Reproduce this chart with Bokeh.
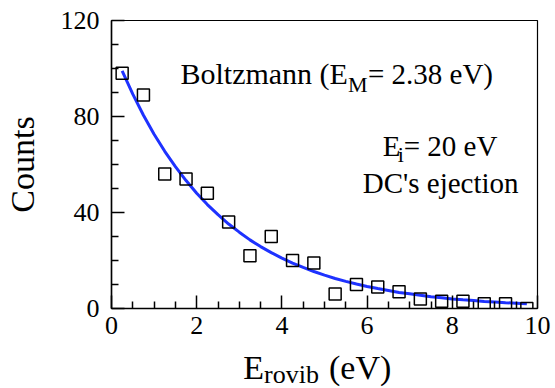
from bokeh.plotting import figure
from bokeh.models import Range1d, FixedTicker, Label
from bokeh.layouts import column
from bokeh.embed import file_html
from bokeh.resources import INLINE

# ---- data ----
e_rovib = [0.25, 0.75, 1.25, 1.75, 2.25, 2.75, 3.25, 3.75, 4.25, 4.75,
           5.25, 5.75, 6.25, 6.75, 7.25, 7.75, 8.25, 8.75, 9.25, 9.75]
counts = [98, 89, 56, 54, 48, 36, 22, 30, 20, 19,
          6, 10, 9, 7, 4, 3, 3, 2, 2, 0]

fit_x = [0.25, 0.50, 0.75, 1.00, 1.25, 1.50, 1.75, 2.00, 2.25, 2.50,
         2.75, 3.00, 3.25, 3.50, 3.75, 4.00, 4.25, 4.50, 4.75, 5.00,
         5.25, 5.50, 5.75, 6.00, 6.25, 6.50, 6.75, 7.00, 7.25, 7.50,
         7.75, 8.00, 8.25, 8.50, 8.75, 9.00, 9.25, 9.50, 9.75]
fit_y = [99.0, 89.3, 80.5, 72.6, 65.5, 59.1, 53.3, 48.0, 43.3, 39.1,
         35.2, 31.8, 28.6, 25.8, 23.3, 21.0, 18.9, 17.1, 15.4, 13.9,
         12.5, 11.3, 10.2, 9.2, 8.3, 7.5, 6.7, 6.1, 5.5, 4.9,
         4.5, 4.0, 3.6, 3.3, 2.9, 2.7, 2.4, 2.2, 2.0]

x_major = [0, 2, 4, 6, 8, 10]
x_minor = [0.5, 1, 1.5, 2.5, 3, 3.5, 4.5, 5, 5.5, 6.5, 7, 7.5, 8.5, 9, 9.5]
y_major = [0, 40, 80, 120]
y_minor = [10, 20, 30, 50, 60, 70, 90, 100, 110]

FONT = "Liberation Serif"
W = 555
LEFT, RIGHT = 110, 18

p = figure(width=W, height=350, output_backend="svg", toolbar_location=None,
           x_range=Range1d(0, 10), y_range=Range1d(0, 120),
           min_border_left=LEFT, min_border_right=RIGHT,
           min_border_top=20, min_border_bottom=42)
p.grid.visible = False
p.outline_line_color = "black"
p.outline_line_width = 1.2
p.background_fill_color = "white"
p.border_fill_color = "white"

for ax, maj, mnr in ((p.xaxis[0], x_major, x_minor), (p.yaxis[0], y_major, y_minor)):
    ax.ticker = FixedTicker(ticks=maj, minor_ticks=mnr)
    ax.major_tick_in = 13
    ax.major_tick_out = 0
    ax.minor_tick_in = 7
    ax.minor_tick_out = 0
    ax.axis_line_width = 1.5
    ax.major_tick_line_width = 1.5
    ax.minor_tick_line_width = 1.5
    ax.axis_line_color = "black"
    ax.major_tick_line_color = "black"
    ax.minor_tick_line_color = "black"
    ax.major_label_text_font = FONT
    ax.major_label_text_font_size = "26px"
    ax.major_label_text_color = "black"

p.yaxis[0].major_label_standoff = 12
p.xaxis[0].major_label_standoff = 8

p.yaxis[0].axis_label = "Counts"
p.yaxis[0].axis_label_text_font = FONT
p.yaxis[0].axis_label_text_font_size = "34px"
p.yaxis[0].axis_label_text_font_style = "normal"
p.yaxis[0].axis_label_text_color = "black"
p.yaxis[0].axis_label_standoff = 17

# fit curve and data
p.line(fit_x, fit_y, line_color="#1e32ff", line_width=3)
p.scatter(e_rovib, counts, marker="square", size=12, fill_color=None,
          line_color="black", line_width=1.5)

def lab(fig, x, y, t, size, align="left"):
    fig.add_layout(Label(x=x, y=y, text=t, text_font=FONT, text_font_size=size,
                         text_align=align, text_baseline="alphabetic",
                         text_color="black"))

# annotations (data coordinates)
lab(p, 5.55, 98.1, "Boltzmann (E", "30px", align="right")
lab(p, 5.55, 93.3, "M", "22px")
lab(p, 6.02, 97.9, "= 2.38 eV)", "29px")
lab(p, 6.37, 67.9, "E", "29px")
lab(p, 6.72, 64.0, "i", "22px")
lab(p, 6.86, 67.9, "= 20 eV", "29px")
lab(p, 9.555, 52.1, "DC's ejection", "29px", align="right")

# x-axis title strip, sharing the x scale of the main plot
s = figure(width=W, height=38, output_backend="svg", toolbar_location=None,
           title=None,
           x_range=p.x_range, y_range=Range1d(0, 38),
           x_axis_type=None, y_axis_type=None,
           min_border_left=LEFT, min_border_right=RIGHT,
           min_border_top=0, min_border_bottom=0)
s.grid.visible = False
s.outline_line_color = None
s.background_fill_color = "white"
s.border_fill_color = "white"
lab(s, 3.09, 21, "E", "34px")
lab(s, 3.58, 14, "rovib", "26px")
lab(s, 5.105, 21, "(eV)", "34px")

layout = column(p, s, spacing=0)
open("out.html", "w").write(file_html(layout, INLINE))
